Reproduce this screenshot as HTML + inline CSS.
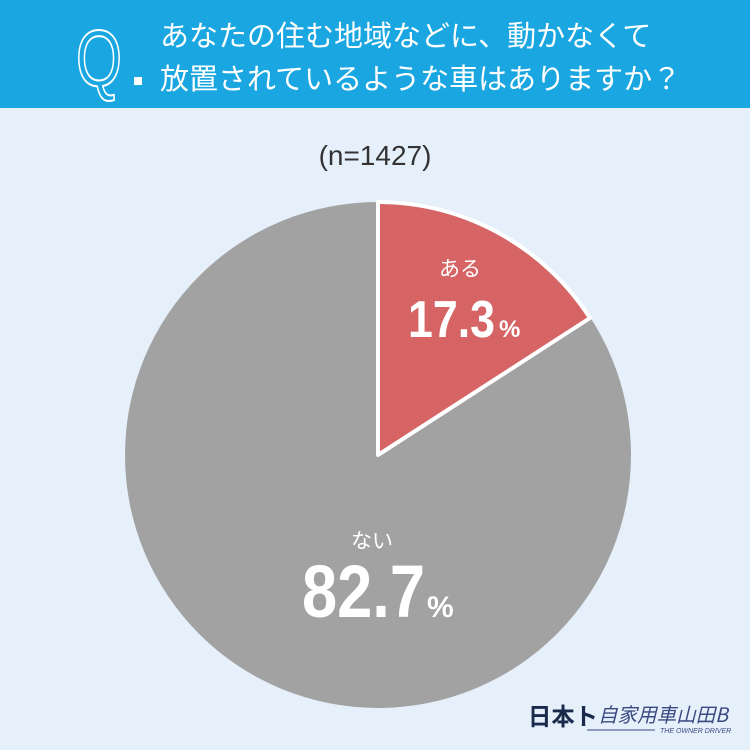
<!DOCTYPE html>
<html><head><meta charset="utf-8"><style>
body{margin:0;width:750px;height:750px;overflow:hidden;background:#e6f0fb;font-family:"Liberation Sans","Noto Sans CJK JP",sans-serif}
.hd{position:absolute;left:0;top:0;width:750px;height:108px;background:#1aa6e0}
.t{position:absolute;left:160px;top:16px;color:#fff;font-size:29px;line-height:43px;white-space:nowrap}
</style></head><body>
<div class="hd"></div>
<svg width="750" height="108" style="position:absolute;left:0;top:0">
<text x="76" y="86" font-size="80" font-family="Liberation Sans, sans-serif" fill="none" stroke="#fff" stroke-width="2" textLength="46" lengthAdjust="spacingAndGlyphs">Q</text>
<rect x="134" y="77" width="8" height="8" fill="#fff"/>
</svg>
<div class="t">あなたの住む地域などに、動かなくて<br>放置されているような車はありますか？</div>
<div style="position:absolute;left:0;width:750px;top:140px;text-align:center;font-size:28px;color:#333">(n=1427)</div>
<svg width="750" height="750" style="position:absolute;left:0;top:0">
<circle cx="378" cy="455" r="253" fill="#a2a2a2"/>
<path d="M378 455 L378 202 A253 253 0 0 1 590 318 Z" fill="#d66465" stroke="#fff" stroke-width="4" stroke-linejoin="round"/>
<g fill="#fff" font-family="Liberation Sans, Noto Sans CJK JP, sans-serif">
<text x="460" y="276" font-size="21" text-anchor="middle">ある</text>
<text x="408" y="337" font-size="52" font-weight="bold" textLength="87" lengthAdjust="spacingAndGlyphs">17.3</text>
<text x="499" y="337" font-size="24" font-weight="bold">%</text>
<text x="372" y="548" font-size="21" text-anchor="middle">ない</text>
<text x="302" y="617" font-size="74" font-weight="bold" textLength="123" lengthAdjust="spacingAndGlyphs">82.7</text>
<text x="427" y="617" font-size="30" font-weight="bold">%</text>
</g>
<text x="528" y="725" font-size="24" font-weight="bold" fill="#1a2a4a" font-family="Noto Sans CJK JP, sans-serif" textLength="70" lengthAdjust="spacingAndGlyphs">日本ト</text>
<text x="598" y="722" font-size="20" font-style="italic" fill="#3a4a80" font-family="Noto Sans CJK JP, sans-serif" textLength="130" lengthAdjust="spacingAndGlyphs">自家用車山田B</text>
<line x1="587" y1="730" x2="655" y2="730" stroke="#3a4a80" stroke-width="1"/>
<text x="660" y="733" font-size="7" font-style="italic" fill="#3a4a80">THE OWNER DRIVER</text>
</svg>
</body></html>
